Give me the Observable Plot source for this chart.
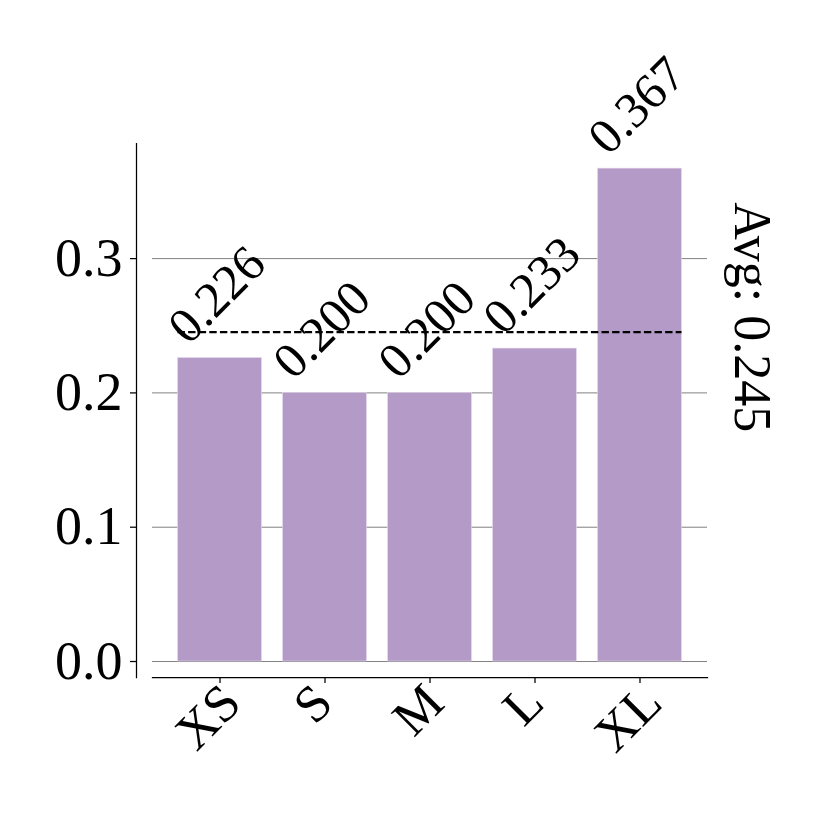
<!DOCTYPE html>
<html><head><meta charset="utf-8">
<script src="https://cdn.jsdelivr.net/npm/d3@7"></script>
<script src="https://cdn.jsdelivr.net/npm/@observablehq/plot@0.6"></script>
<style>body{margin:0;background:#fff}</style>
</head><body><div id="chart"></div>
<script>
const categories = ["XS", "S", "M", "L", "XL"];
const values = [0.226, 0.200, 0.200, 0.233, 0.367];
const yTicks = [0, 0.1, 0.2, 0.3];
const avg = d3.mean(values);
const data = categories.map((c, i) => ({size: c, value: values[i]}));

const FONT = "'Liberation Serif', 'Times New Roman', serif";
const xLabelSize = 52;
const ctx = document.createElement("canvas").getContext("2d");
ctx.font = `${xLabelSize}px 'Liberation Serif'`;
const xLabelMarks = categories.map(c => Plot.text([c], {
  x: d => d, text: d => d, frameAnchor: "bottom", rotate: -45,
  dx: 0, dy: 28 + ctx.measureText(c).width / (2 * Math.SQRT2),
  fontSize: xLabelSize, fill: "black"
}));

const chart = Plot.plot({
  width: 830, height: 830,
  marginLeft: 152, marginRight: 123, marginTop: 143, marginBottom: 153,
  x: {type: "band", domain: categories, paddingInner: 0.2, paddingOuter: 0.243, align: 0.5, round: false},
  y: {domain: [-0.0119, 0.3857]},
  style: {fontFamily: FONT, color: "black", background: "white", overflow: "visible"},
  marks: [
    Plot.gridY(yTicks, {stroke: "#808080", strokeOpacity: 1, strokeWidth: 1}),
    Plot.barY(data, {x: "size", y: "value", fill: "#b49ac6", stroke: "#e6dcee", strokeWidth: 0.6}),
    Plot.ruleY([avg], {y: d => d, x1: () => categories[0], x2: () => categories[categories.length - 1],
      stroke: "black", strokeWidth: 2.2, strokeDasharray: "7.4,3.2"}),
    Plot.text(data, {x: "size", y: "value", text: d => d3.format(".3f")(d.value), rotate: -45,
      dx: -3, dy: -63, fontSize: 50, fill: "black"}),
    Plot.text([avg], {x: () => categories[categories.length - 1], y: d => d,
      text: d => `Avg: ${d3.format(".3f")(d)}`, rotate: 90, dx: 112, dy: -15, fontSize: 52, fill: "black"}),
    Plot.axisY(yTicks, {anchor: "left", dx: -16, tickSize: 6, tickPadding: 8, tickFormat: ".1f",
      fontSize: 54, label: null, stroke: "black", strokeWidth: 1.25}),
    Plot.axisX({tickSize: 6, tickFormat: () => "", label: null, stroke: "black", strokeWidth: 1.25}),
    Plot.frame({anchor: "left", dx: -16, stroke: "black", strokeWidth: 1.25}),
    Plot.frame({anchor: "bottom", stroke: "black", strokeWidth: 1.25}),
    ...xLabelMarks
  ]
});
document.getElementById("chart").appendChild(chart);
</script>
</body></html>
